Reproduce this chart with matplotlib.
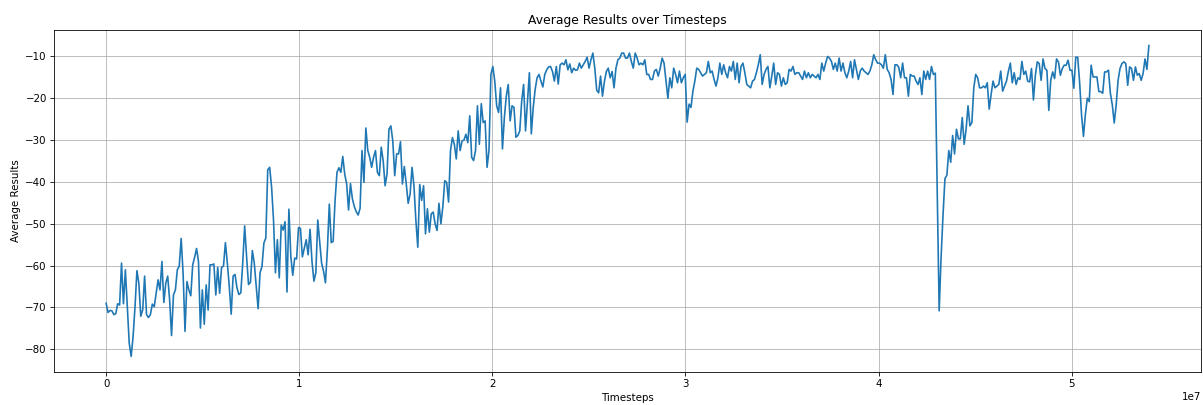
import numpy as np
import matplotlib
matplotlib.use("Agg")
import matplotlib.pyplot as plt

# Evaluation log: average result per logging interval over 54M timesteps
TOTAL_TIMESTEPS = 54_000_000

avg_results_early = [
    -69.0, -71.2, -70.7, -70.8, -71.7, -71.5, -69.1, -69.4, -59.4, -69.1,
    -61.0, -69.9, -78.5, -81.7, -77.0, -69.9, -61.2, -64.2, -72.1, -70.6,
    -62.5, -71.7, -72.4, -71.7, -69.2, -69.8, -66.6, -63.4, -65.8, -59.0,
    -68.8, -64.2, -62.5, -68.2, -76.7, -67.0, -65.8, -61.0, -60.1, -53.5,
    -61.8, -75.7, -63.8, -65.8, -67.2, -59.8, -58.0, -55.9, -59.0, -74.9,
    -65.8, -74.0, -64.6, -70.6, -59.8, -59.8, -59.6, -67.0, -60.4, -66.6,
    -60.4, -60.1, -54.5, -59.4,
    -64.9, -71.6, -62.5, -62.1, -65.3, -66.9, -66.5, -59.4, -50.5, -57.8,
    -64.5, -64.0, -56.4, -59.4, -64.9, -70.3, -61.7, -60.2, -54.6, -53.4,
    -37.1, -36.5, -41.2, -49.1, -61.7, -53.8, -62.9, -50.3, -51.5, -49.5,
    -66.3, -46.5, -57.8, -62.3, -58.2, -58.4, -50.9, -51.1, -57.9, -55.8,
    -53.8, -57.4, -51.3, -59.0, -63.7, -61.7, -49.1, -54.2, -59.4, -61.3,
    -64.1, -56.2, -45.3, -54.5, -54.2, -44.4, -37.7, -36.6, -37.7, -33.9,
    -38.1, -40.4, -46.7, -40.4, -44.0, -45.9, -47.1, -47.9, -46.3, -32.5,
]

avg_results_mid = [
    -40.1, -27.1, -32.5, -34.1, -36.5, -34.1, -32.5, -37.7, -38.5, -31.7,
    -34.9, -40.9, -38.1, -27.4, -26.6, -30.2, -38.5, -33.3, -33.3, -30.4,
    -40.5, -36.3, -40.5, -45.1, -42.9, -36.5, -40.9, -49.2, -55.6, -40.6,
    -44.4, -40.9, -52.4, -46.4, -52.0, -47.6, -47.2, -50.0, -51.6, -45.1,
    -50.0, -46.0, -39.7, -40.1, -44.8, -32.5, -29.4, -31.0, -34.5, -27.8,
    -32.5, -30.2, -30.0, -28.6, -30.6, -24.2, -34.1, -34.9, -32.5, -21.8,
    -31.0, -21.3, -25.8, -25.4, -36.5, -32.5,
    -14.3, -12.4, -15.9, -21.8, -23.4, -17.5, -32.1, -24.6, -19.5, -16.7,
    -25.4, -21.8, -22.2, -29.3, -28.9, -27.8, -20.7, -16.7, -27.8, -20.7,
    -13.9, -28.5, -22.2, -17.9, -15.1, -14.3, -15.9, -17.3, -14.3, -13.2,
    -12.5, -12.4, -13.6, -15.9, -12.4, -16.6, -12.0, -11.6, -12.0, -10.8,
    -13.2, -11.8, -13.9, -12.8, -13.3, -13.2, -11.6, -12.8, -12.0, -11.2,
    -10.2, -12.8, -10.8, -9.2, -12.8, -18.1, -18.7, -14.7, -19.5, -16.0,
    -13.6, -12.8, -15.1, -13.6, -17.5, -12.8, -10.8, -10.4, -9.2, -9.2,
    -10.4,
]

avg_results_plateau = [
    -10.4, -9.2, -11.2, -12.8, -9.2, -10.4, -12.0, -11.6, -12.0, -10.8,
    -14.3, -14.3, -15.5, -15.5, -13.5, -13.1, -14.7, -12.8, -10.4, -11.6,
    -15.9, -20.0, -15.1, -17.5, -12.8, -14.3, -16.3, -13.5, -16.3, -15.1,
    -14.3, -25.7, -21.4, -22.2, -18.3, -15.9, -12.8, -13.1, -13.9, -14.7,
    -14.3, -13.9, -11.2, -13.9, -13.5, -15.5, -17.1, -15.1, -11.6, -14.3,
    -12.0, -13.9, -15.1, -12.4, -13.5, -11.2, -15.5, -11.6, -16.3, -12.4,
    -11.6, -13.9, -16.7, -17.1, -17.5, -15.9, -15.5, -13.9, -12.0, -9.6,
    -16.7, -14.3, -13.1, -12.4, -17.5, -14.7, -11.6, -16.7, -13.9, -14.3,
    -17.1, -15.1, -16.7, -16.3, -13.1, -13.5, -12.4, -14.3, -13.9, -13.9,
    -14.7, -15.5, -13.5, -15.1, -13.9, -15.1, -14.3, -14.7, -15.1, -14.3,
    -15.5, -11.6, -13.5, -11.6, -10.0, -10.4, -11.2, -13.1, -11.6, -13.5,
    -10.4, -13.5, -11.6, -13.9, -15.1, -13.5, -11.2, -15.1, -10.8, -13.1,
    -15.5, -13.5, -12.8, -13.5, -13.9, -14.3, -13.5, -12.0, -9.6, -10.8,
    -11.6, -11.6, -12.0, -12.8, -9.6, -13.1, -13.9, -15.5, -19.1, -12.0,
    -12.0,
]

avg_results_late = [
    -12.6, -15.1, -11.6, -15.1, -15.1, -19.5, -14.3, -14.7, -14.7, -15.9,
    -16.7, -15.1, -19.1, -13.5, -15.5, -13.5, -15.5, -12.4, -14.3, -14.0,
    -42.5, -70.8, -58.0, -48.0, -39.2, -38.4, -32.5, -35.3, -28.9, -33.3,
    -27.4, -29.7, -29.7, -24.6, -31.0, -27.4, -21.8, -26.6, -25.8, -17.5,
    -14.3, -15.1, -17.5, -17.5, -17.1, -17.5, -16.3, -22.6, -19.1, -15.9,
    -17.5, -17.1, -16.7, -13.5, -18.3, -17.1, -15.9, -13.5, -11.6, -16.3,
    -13.9, -16.7, -15.1, -15.5, -11.2, -14.3, -13.5, -15.9,
    -16.1, -12.9, -20.4, -14.5, -11.3, -11.7, -15.7, -10.6, -12.9, -13.3,
    -22.9, -15.7, -13.7, -15.3, -10.6, -11.3, -14.5, -12.9, -12.1, -12.1,
    -10.9, -13.3, -13.3, -17.6, -10.2, -10.2, -16.1, -23.9, -29.1, -23.9,
    -20.0, -20.8, -12.1, -14.9, -14.9, -14.9, -18.4, -18.4, -18.8, -13.7,
    -13.7, -13.3, -18.8, -21.6, -25.9, -21.6, -15.7, -12.9, -11.7, -11.3,
    -11.7, -16.9, -12.5, -12.9, -15.7, -12.5, -14.5, -14.1, -15.7, -14.1,
    -10.6, -13.1, -7.4,
]

avg_results = np.array(avg_results_early + avg_results_mid
                       + avg_results_plateau + avg_results_late)
timesteps = np.linspace(0, TOTAL_TIMESTEPS, len(avg_results))

W, H, DPI = 1203, 405, 74
fig = plt.figure(figsize=(W / DPI, H / DPI), dpi=DPI)
ax = fig.add_axes([54 / W, 1 - 372 / H, (1201 - 54) / W, (372 - 30) / H])

ax.plot(timesteps, avg_results, color="#1f77b4", linewidth=1.6)
ax.set_title("Average Results over Timesteps")
ax.set_xlabel("Timesteps")
ax.set_ylabel("Average Results")
ax.grid(True)

fig.savefig("out.png", dpi=DPI)
